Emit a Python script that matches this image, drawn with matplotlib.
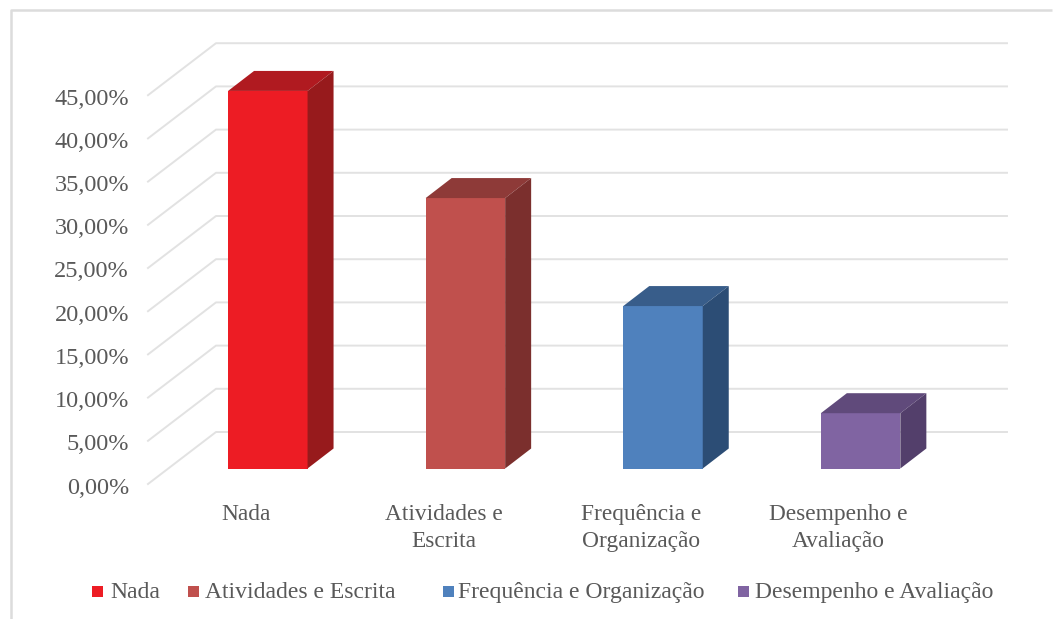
"""3D-look column chart redrawn with plain matplotlib patches."""
import matplotlib
matplotlib.use("Agg")
import matplotlib.pyplot as plt
from matplotlib.patches import Polygon, Rectangle

# Chart data
CATEGORIES = ["Nada", "Atividades e Escrita", "Frequência e Organização", "Desempenho e Avaliação"]
AXIS_LABELS = ["Nada", "Atividades e\nEscrita", "Frequência e\nOrganização", "Desempenho e\nAvaliação"]
VALUES = [43.7, 31.3, 18.8, 6.4]
TICKS = [0, 5, 10, 15, 20, 25, 30, 35, 40, 45]
TICK_LABELS = ["0,00%", "5,00%", "10,00%", "15,00%", "20,00%", "25,00%", "30,00%", "35,00%", "40,00%", "45,00%"]

FRONT = ["#ED1C24", "#C0504D", "#4F81BD", "#8064A2"]
TOP = ["#B01A20", "#8E3A38", "#385D8A", "#604A7B"]
SIDE = ["#971A1C", "#7B2F2D", "#2C4D75", "#533F6B"]
TEXT = "#595959"
GRID = "#E2E2E2"

W, H = 1056, 619
X0, STEP = 267.8, 197.6  # pixel centre of first bar, pixels per category
Y0, UNIT = 468.5, 8.64   # pixel of bar base, pixels per percent


def px(x):
    return (x - X0) / STEP


def py(y):
    return (Y0 - y) / UNIT


BAR_W = 79.5 / STEP
DX, DY = 26 / STEP, 20 / UNIT

fig = plt.figure(figsize=(W / 100, H / 100), dpi=100)
ax = fig.add_axes([0, 0, 1, 1])
ax.set_xlim(px(0), px(W))
ax.set_ylim(py(H), py(0))
ax.axis("off")
plt.rcParams["font.family"] = ["Liberation Serif", "DejaVu Serif"]

# outer frame, left and top only
ax.plot([px(11), px(11), px(1052)], [py(H), py(10.5), py(10.5)], color="#DCDCDC", lw=1.8, solid_capstyle="butt")

# walls: diagonal on the floor side, then the back wall line
for t, label in zip(TICKS, TICK_LABELS):
    y_front = py(484 - t * UNIT)
    y_back = py(432 - t * UNIT)
    ax.plot([px(148), px(216), px(1007)], [y_front, y_back, y_back], color=GRID, lw=1.4, zorder=1)
    ax.text(px(129), y_front - 4 / UNIT, label, ha="right", va="center", fontsize=17.5, color=TEXT)

for i, v in enumerate(VALUES):
    left, right = i - BAR_W / 2, i + BAR_W / 2
    ax.bar(i, v, width=BAR_W, color=FRONT[i], zorder=3)
    ax.add_patch(Polygon([(left, v), (right, v), (right + DX, v + DY), (left + DX, v + DY)], facecolor=TOP[i], edgecolor="none", zorder=3))
    ax.add_patch(Polygon([(right, 0), (right + DX, DY), (right + DX, v + DY), (right, v)], facecolor=SIDE[i], edgecolor="none", zorder=3))
    ax.text(i - 22 / STEP, py(504), AXIS_LABELS[i], ha="center", va="top", fontsize=16.8, color=TEXT, linespacing=1.37)

# legend laid out by hand, gaps in the original are uneven
SWATCH_X = [92, 188, 443, 738]
LABEL_X = [110, 205, 458, 755]
for x, tx, name, c in zip(SWATCH_X, LABEL_X, CATEGORIES, FRONT):
    ax.add_patch(Rectangle((px(x), py(597)), 11 / STEP, 11 / UNIT, facecolor=c, edgecolor="none"))
    ax.text(px(tx), py(592.5), name, ha="left", va="center", fontsize=17, color=TEXT)

fig.savefig("out.png", dpi=100)
